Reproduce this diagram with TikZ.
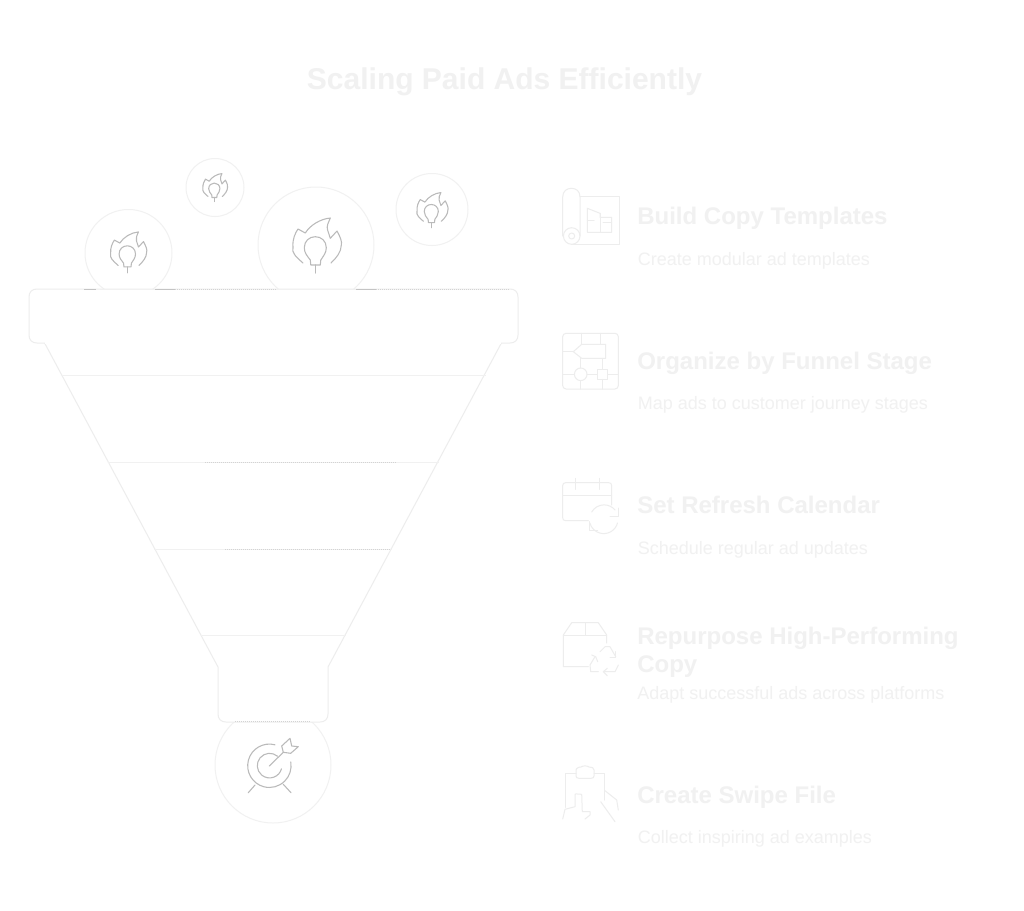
\documentclass[tikz,border=0pt]{standalone}
\usepackage{fontspec}
\setmainfont{Liberation Sans}
\definecolor{faint}{HTML}{F1F1F1}
\definecolor{edge}{HTML}{EDEDED}
\definecolor{icongray}{HTML}{BABABA}
\definecolor{rimgray}{HTML}{C4C4C4}
\tikzset{
  x=0.75pt,y=-0.75pt,
  titletext/.style={font=\bfseries\fontsize{22.5}{26}\selectfont,text=faint,inner sep=0pt,anchor=base},
  headtext/.style={font=\bfseries\fontsize{18}{21}\selectfont,text=faint,inner sep=0pt,anchor=base west},
  desctext/.style={font=\fontsize{13.5}{16}\selectfont,text=faint,inner sep=0pt,anchor=base west},
  bubble/.style={circle,draw=faint,line width=0.75pt,fill=white,inner sep=0pt},
  funnelline/.style={draw=edge,line width=0.75pt,fill=white,line join=round},
  bandline/.style={draw=faint,line width=0.75pt},
  darkline/.style={draw=rimgray,line width=0.6pt},
  dotline/.style={draw=rimgray!75,line width=0.6pt,dash pattern=on 0.75pt off 0.75pt},
  iconline/.style={draw=icongray,line width=0.8pt,line cap=round,line join=round},
  softline/.style={draw=edge,line width=0.75pt,line cap=round,line join=round},
}
\newcommand{\flameicon}[3]{%
  \begin{scope}[shift={(#1,#2)},x=#3*0.75pt,y=-#3*0.75pt]
    \draw[iconline] (-12.3,18) .. controls (-19,12) and (-24,8) .. (-22.3,2)
      .. controls (-23,-6) and (-20,-12) .. (-17.3,-16) -- (-10,-12)
      .. controls (-5,-20) and (5,-26) .. (15,-27)
      .. controls (13,-22) and (11,-19) .. (12.3,-15) -- (15,-6.7) -- (21.7,-14)
      .. controls (25,-8) and (27,-3) .. (26,0)
      .. controls (26,7) and (21,13) .. (15.7,18);
    \draw[iconline] (-5,15) .. controls (-8,11) and (-11,8) .. (-11,2.7)
      .. controls (-11,-4) and (-6,-8.3) .. (0,-8.3)
      .. controls (6,-8.3) and (11,-4) .. (11,2.7)
      .. controls (11,8) and (8,11) .. (5.5,15) -- (5,20) -- (-4.5,20) -- cycle;
    \draw[iconline] (0,20) -- (0,28);
  \end{scope}}
\begin{document}
\begin{tikzpicture}
\useasboundingbox (0,0) rectangle (1024,910);
\fill[white] (0,0) rectangle (1024,910);

\node[titletext] (title) at (504.5,89.6) {Scaling Paid Ads Efficiently};

% bubbles
\node[bubble,minimum size=87pt*0.75] (bubbleL) at (128.5,253) {};
\node[bubble,minimum size=58pt*0.75] (bubbleS) at (215,187.5) {};
\node[bubble,minimum size=116pt*0.75] (bubbleB) at (316,245) {};
\node[bubble,minimum size=72pt*0.75] (bubbleR) at (432,209.5) {};
\node[bubble,minimum size=116pt*0.75] (bubbleT) at (273,765) {};

% funnel
\draw[funnelline] (43,340) -- (218,667) -- (218,714)
  .. controls (218,719) and (221,722) .. (226,722) -- (320,722)
  .. controls (325,722) and (328,719) .. (328,714) -- (328,667) -- (503,340);
\draw[funnelline] (37,289) -- (510,289)
  .. controls (515,289) and (518,292) .. (518,297) -- (518,335)
  .. controls (518,340) and (515,343) .. (510,343) -- (37,343)
  .. controls (32,343) and (29,340) .. (29,335) -- (29,297)
  .. controls (29,292) and (32,289) .. (37,289) -- cycle;
\draw[draw=white,line width=1.5pt] (45,343) -- (501,343);
\draw[bandline] (60.5,375) -- (485.5,375);
\draw[bandline] (107.5,462) -- (438.5,462);
\draw[bandline] (154,549) -- (392,549);
\draw[bandline] (200.5,635) -- (345.5,635);
\draw[bandline] (100,289) -- (155,289);
\draw[bandline] (258,289) -- (356,289);

% darker parts of the outline
\draw[darkline] (84,289) -- (96,289);
\draw[darkline] (155,289) -- (175,289);
\draw[dotline] (175,289) -- (277,289);
\draw[darkline] (356,289) -- (376,289);
\draw[dotline] (376,289) -- (510,289);
\draw[dotline] (205,462) -- (397,462);
\draw[dotline] (225,549) -- (390,549);
\draw[dotline] (235,721.5) -- (310,721.5);

% flame icons
\flameicon{127.3}{252}{0.745}
\flameicon{214.3}{187.3}{0.51}
\flameicon{315.3}{245}{1}
\flameicon{431.3}{209.8}{0.64}

% target icon
\draw[iconline] (275,744.8) arc[start angle=-75,end angle=-370,radius=21.7];
\draw[iconline] (277.5,756.2) arc[start angle=-50,end angle=-345,radius=12.3];
\draw[iconline] (269.3,766) -- (283.3,752.3);
\draw[iconline] (283.3,752.3) -- (281.7,746) -- (290,738.3) -- (291.7,746) -- (298.3,746.7) -- (290.7,753.3) -- cycle;
\draw[iconline] (255,785) -- (248.3,792.7);
\draw[iconline] (283.3,784.3) -- (291,792.7);

% icon 1: plan scroll
\draw[softline] (562.7,236) -- (562.7,197) .. controls (562.7,191) and (567,188.3) .. (571.3,188.3)
  .. controls (576,188.3) and (580,191) .. (580,197) -- (580,236);
\draw[softline] (571.7,236) circle[radius=8.3];
\draw[softline] (571.7,236) circle[radius=3];
\draw[softline] (580,196) -- (619,196) -- (619,244.3) -- (572,244.3);
\draw[softline] (587.3,208.3) -- (600,213.3) -- (600,217.3) -- (611.7,217.3) -- (611.7,232.3) -- (587.3,232.3) -- cycle;
\draw[softline] (600,213.3) -- (600,232.3) (587.3,220) -- (594,220) (603,222) -- (611.7,222);

% icon 2: flow chart
\draw[softline,rounded corners=2.5pt] (562.7,333.3) rectangle (618.3,389);
\draw[softline] (573.3,351.7) -- (581.7,344.3) -- (605.7,344.3) -- (605.7,358.3) -- (581.7,358.3) -- cycle;
\draw[softline] (580.7,374.3) circle[radius=6.3];
\draw[softline] (597.3,369.3) rectangle (607.7,379.3);
\draw[softline] (562.7,351.7) -- (573.3,351.7) (581.7,333.3) -- (581.7,344.3) (600,333.3) -- (600,344.3)
  (580.7,358.3) -- (580.7,368) (602.7,358.3) -- (602.7,369.3)
  (562.7,374.3) -- (574.4,374.3) (587,374.3) -- (597.3,374.3) (607.7,374.3) -- (618.3,374.3)
  (580.7,380.6) -- (580.7,389) (602.7,379.3) -- (602.7,389);

% icon 3: calendar
\draw[softline] (588.3,520.7) -- (565.7,520.7) .. controls (563.7,520.7) and (562.7,519.7) .. (562.7,517.7)
  -- (562.7,485.7) .. controls (562.7,483.7) and (563.7,482.7) .. (565.7,482.7)
  -- (608.7,482.7) .. controls (610.7,482.7) and (611.7,483.7) .. (611.7,485.7) -- (611.7,505);
\draw[softline] (562.7,495) -- (611.7,495);
\draw[softline] (575,478.3) -- (575,489.3) (599.3,478.3) -- (599.3,489.3);
\draw[softline] (591.7,512) arc[start angle=-150,end angle=-40,radius=14.3];
\draw[softline] (617.5,523) arc[start angle=15,end angle=165,radius=14.3];
\draw[softline] (618.3,508) -- (618.3,516.7) -- (610,516.7);
\draw[softline] (589.3,521.7) -- (589.3,530) -- (597.7,530);

% icon 4: box and recycling
\draw[softline] (606.7,643) -- (606.7,635) -- (598.3,622.7) -- (571.7,622.7) -- (563.3,635) -- (563.3,666.7) -- (588.3,666.7);
\draw[softline] (563.3,635) -- (606.7,635);
\draw[softline] (585.7,622.7) -- (585.7,635);
\draw[softline] (600,651.7) -- (605,646.7) -- (610,646.7) -- (615.7,656.7);
\draw[softline] (615.7,651.7) -- (615.7,657.3) -- (610,657.3);
\draw[softline] (618.3,665) -- (615,671.7) -- (603.3,671.7);
\draw[softline] (607.3,668.3) -- (603.3,671.7) -- (607.3,675.7);
\draw[softline] (598.3,671.7) -- (590.7,671.7) -- (590,665) -- (595,656.7);
\draw[softline] (591.7,655) -- (595.7,656.7) -- (597.7,661.7);

% icon 5: clipboard and hands
\draw[softline] (576,773.3) -- (565.7,773.3) -- (565.7,807.3);
\draw[softline] (594,773.3) -- (604,773.3) -- (604,800);
\draw[softline] (576,770) .. controls (576,768) and (580,766.7) .. (581,767)
  .. controls (583,765.5) and (587,765.5) .. (589,767) .. controls (592,766.7) and (594,768) .. (594,770)
  -- (594,776) .. controls (594,777.5) and (593,778.3) .. (591,778.3) -- (579,778.3)
  .. controls (577,778.3) and (576,777.5) .. (576,776) -- cycle;
\draw[softline] (562.7,819) -- (565,809.3) -- (575,806.7) -- (575,794.3) .. controls (575,793) and (576,794.3) .. (581.7,794.3) -- (582.3,811.7) -- (590,811.7) -- (590,815) -- (585,819);
\draw[softline] (600.7,801.7) -- (615,821.7);
\draw[softline] (605,790.7) -- (616.7,800) -- (618.3,810);

% texts
\node[headtext] (h1) at (637,224.3) {Build Copy Templates};
\node[desctext] (d1) at (637.5,265) {Create modular ad templates};
\node[headtext] (h2) at (637,369.2) {Organize by Funnel Stage};
\node[desctext] (d2) at (637.5,409.7) {Map ads to customer journey stages};
\node[headtext] (h3) at (637,513.3) {Set Refresh Calendar};
\node[desctext] (d3) at (637.5,554) {Schedule regular ad updates};
\node[headtext] (h4a) at (637,644.2) {Repurpose High-Performing};
\node[headtext] (h4b) at (637,672.7) {Copy};
\node[desctext] (d4) at (637,699) {Adapt successful ads across platforms};
\node[headtext] (h5) at (637,803.3) {Create Swipe File};
\node[desctext] (d5) at (637.5,843) {Collect inspiring ad examples};
\end{tikzpicture}
\end{document}
